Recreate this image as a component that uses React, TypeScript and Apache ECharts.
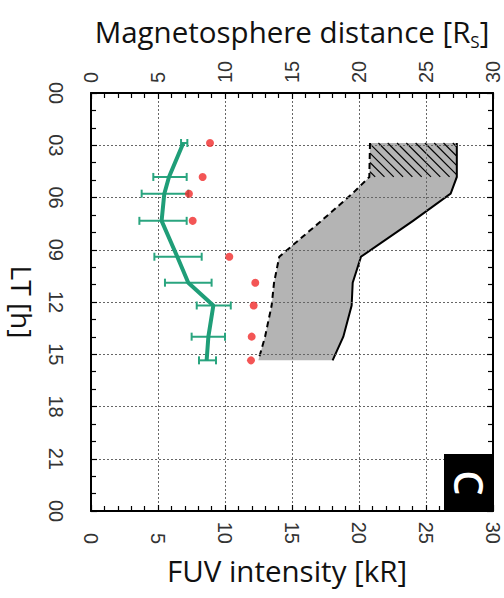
import React, { useEffect, useRef } from "react";
import * as echarts from "echarts";

// Local time [h] of each sample
const ltHours = [2.87, 4.82, 5.78, 7.34, 9.4, 10.89, 12.2, 13.99, 15.35];
// FUV intensity [kR] (mean, lower, upper)
const fuvMean = [6.89, 5.82, 5.47, 5.27, 6.44, 7.26, 9.13, 8.76, 8.63];
const fuvLow = [6.72, 4.65, 3.78, 3.61, 4.73, 5.52, 7.89, 7.51, 8.06];
const fuvHigh = [7.19, 7.14, 7.26, 7.14, 8.26, 9.0, 10.43, 10.0, 9.33];
// Magnetosphere distance [Rs] — red points
const redDistance = [8.88, 8.33, 7.31, 7.59, 10.32, 12.26, 12.14, 11.99, 11.94];
// Magnetopause band, inner (dashed) and outer (solid) edges [Rs]
const mpInner = [20.82, 20.77, 19.5, 17.19, 14.05, 13.66, 13.48, 12.99, 12.49];
const mpOuter = [27.3, 27.3, 26.84, 24.03, 20.15, 19.53, 19.45, 18.83, 18.03];
// Hatched part of the band (indices into ltHours)
const hatchRange = [0, 1];

const xTicks = [0, 5, 10, 15, 20, 25, 30];
const ltTicks = [0, 3, 6, 9, 12, 15, 18, 21, 24];

const GREEN = "#1f9e78";
const GREEN_ERR = "#2aa57f";
const RED = "#f02a2a";
const TICK_FONT = "Liberation Sans";
const TITLE_FONT = "Open Sans";

export default function App() {
  const ref = useRef<HTMLDivElement>(null);
  useEffect(() => {
    document.body.style.margin = "0";
    const chart = echarts.init(ref.current!, null, { renderer: "svg" });

    const xAxisBase = (position: "top" | "bottom") => ({
      type: "value",
      position,
      min: xTicks[0],
      max: xTicks[xTicks.length - 1],
      interval: xTicks[1] - xTicks[0],
      axisLine: { show: true, onZero: false, lineStyle: { color: "#000", width: 2 } },
      axisTick: { show: true, inside: true, length: 6, lineStyle: { color: "#000", width: 1.2 } },
      minorTick: { show: true, splitNumber: 5, length: 5, lineStyle: { color: "#000", width: 1.2 } },
      axisLabel: {
        show: true,
        rotate: -90,
        align: position === "top" ? "left" : "right",
        verticalAlign: "middle",
        margin: position === "top" ? 10 : 33,
        fontFamily: TICK_FONT,
        fontSize: 20,
        color: "#333",
      },
      nameLocation: "middle",
    });

    const yAxisBase = (position: "left" | "right") => ({
      type: "value",
      position,
      inverse: true,
      min: ltTicks[0],
      max: ltTicks[ltTicks.length - 1],
      interval: 3,
      axisLine: { show: true, onZero: false, lineStyle: { color: "#000", width: 2 } },
      axisTick: { show: true, inside: true, length: 6, lineStyle: { color: "#000", width: 1.2 } },
      minorTick: { show: true, splitNumber: 3, length: 5, lineStyle: { color: "#000", width: 1.2 } },
    });

    const option: any = {
      animation: false,
      grid: { left: 91, right: 11, top: 93, bottom: 87, containLabel: false, outerBoundsMode: "none" },
      xAxis: [
        {
          ...xAxisBase("bottom"),
          name: "FUV intensity [kR]",
          nameGap: 44,
          nameTextStyle: { fontFamily: TITLE_FONT, fontSize: 29.5, color: "#111", verticalAlign: "top", padding: [0, 10, 0, 0] },
          splitLine: { show: false },
        },
        {
          ...xAxisBase("top"),
          name: "Magnetosphere distance [R{sub|S}]",
          nameGap: 47,
          nameTextStyle: {
            fontFamily: TITLE_FONT,
            fontSize: 29.5,
            color: "#111",
            verticalAlign: "bottom",
            rich: { sub: { fontFamily: TITLE_FONT, fontSize: 17, color: "#111", verticalAlign: "bottom", padding: [0, 0, -4, 0] } },
          },
          splitLine: { show: true, lineStyle: { color: "#666", type: [2, 2], width: 1 } },
        },
      ],
      yAxis: [
        {
          ...yAxisBase("left"),
          name: "LT [h]",
          nameLocation: "middle",
          nameRotate: -90,
          nameGap: 55,
          nameTextStyle: { fontFamily: TITLE_FONT, fontSize: 28, lineHeight: 28, color: "#111" },
          axisLabel: {
            show: true,
            rotate: -90,
            align: "center",
            verticalAlign: "middle",
            margin: 35,
            fontFamily: TICK_FONT,
            fontSize: 20,
            color: "#333",
            formatter: (v: number) => String(v % 24).padStart(2, "0"),
          },
          splitLine: { show: true, lineStyle: { color: "#666", type: [2, 2], width: 1 } },
        },
        {
          ...yAxisBase("right"),
          axisLabel: { show: false },
          splitLine: { show: false },
        },
      ],
      series: [
        {
          type: "custom",
          name: "band",
          xAxisIndex: 1,
          yAxisIndex: 0,
          z: -1,
          silent: true,
          data: [[mpInner[0], ltHours[0]]],
          renderItem: (_params: any, api: any) => {
            const inner = ltHours.map((h, i) => api.coord([mpInner[i], h]));
            const outer = ltHours.map((h, i) => api.coord([mpOuter[i], h]));
            const poly = [...inner, ...outer.slice().reverse()];
            const children: any[] = [
              { type: "polygon", shape: { points: poly }, style: { fill: "#b4b4b4", stroke: "none" } },
            ];
            const a = hatchRange[0];
            const b = hatchRange[1];
            const p0 = api.coord([mpInner[a], ltHours[a]]);
            const p1 = api.coord([mpOuter[a], ltHours[b]]);
            const x0 = p0[0], y0 = p0[1], x1 = p1[0], y1 = p1[1];
            const step = 9.3;
            for (let c = y0 - x1 + 4; c < y1 - x0; c += step) {
              const xa = Math.max(x0, y0 - c);
              const xb = Math.min(x1, y1 - c);
              if (xb > xa) {
                children.push({
                  type: "line",
                  shape: { x1: xa, y1: xa + c, x2: xb, y2: xb + c },
                  style: { stroke: "#000", lineWidth: 1.2 },
                });
              }
            }
            children.push({
              type: "polyline",
              shape: { points: inner },
              style: { stroke: "#000", lineWidth: 2, lineDash: [6, 4], fill: null },
            });
            children.push({
              type: "polyline",
              shape: { points: outer },
              style: { stroke: "#000", lineWidth: 2, fill: null },
            });
            return { type: "group", children };
          },
        },
        {
          type: "custom",
          name: "FUV error",
          xAxisIndex: 0,
          yAxisIndex: 0,
          encode: { x: [0, 1], y: 2 },
          data: ltHours.map((h, i) => [fuvLow[i], fuvHigh[i], h]),
          renderItem: (_params: any, api: any) => {
            const lo = api.coord([api.value(0), api.value(2)]);
            const hi = api.coord([api.value(1), api.value(2)]);
            const cap = 4;
            const st = { stroke: GREEN_ERR, lineWidth: 2 };
            return {
              type: "group",
              children: [
                { type: "line", shape: { x1: lo[0], y1: lo[1], x2: hi[0], y2: hi[1] }, style: st },
                { type: "line", shape: { x1: lo[0], y1: lo[1] - cap, x2: lo[0], y2: lo[1] + cap }, style: st },
                { type: "line", shape: { x1: hi[0], y1: hi[1] - cap, x2: hi[0], y2: hi[1] + cap }, style: st },
              ],
            };
          },
        },
        {
          type: "line",
          name: "FUV intensity",
          xAxisIndex: 0,
          yAxisIndex: 0,
          data: ltHours.map((h, i) => [fuvMean[i], h]),
          symbol: "none",
          lineStyle: { color: GREEN, width: 4 },
          z: 3,
        },
        {
          type: "scatter",
          name: "Magnetosphere distance",
          xAxisIndex: 1,
          yAxisIndex: 0,
          data: ltHours.map((h, i) => [redDistance[i], h]),
          symbol: "circle",
          symbolSize: 8,
          itemStyle: { color: RED },
          z: 4,
        },
      ],
      graphic: [
        {
          type: "rect",
          left: 444,
          top: 454,
          shape: { width: 49, height: 57 },
          style: { fill: "#000" },
          z: 10,
        },
        {
          type: "text",
          x: 469,
          y: 483,
          rotation: -Math.PI / 2,
          style: {
            text: "C",
            fill: "#fff",
            font: "600 40px 'Open Sans'",
            align: "center",
            verticalAlign: "middle",
          },
          z: 11,
        },
      ],
    };

    chart.setOption(option);
    return () => chart.dispose();
  }, []);

  return (
    <div
      ref={ref}
      style={{ position: "absolute", left: 0, top: 0, width: 504, height: 598 }}
    />
  );
}
